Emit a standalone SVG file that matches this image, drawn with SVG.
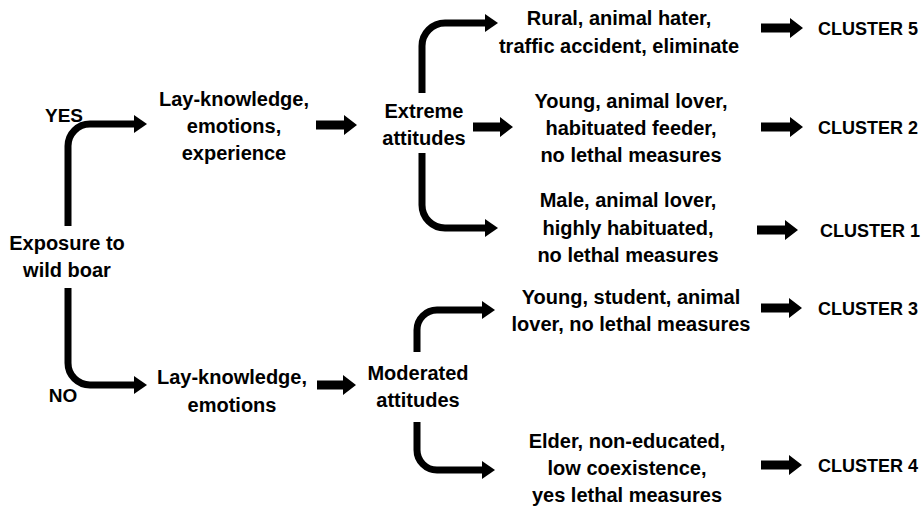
<svg xmlns="http://www.w3.org/2000/svg" width="921" height="507" viewBox="0 0 921 507">
<style>
  text { font-family: "Liberation Sans", Arial, sans-serif; font-weight: bold; font-size: 20px; fill: #000; text-anchor: middle; }
  .small { font-size: 19px; }
  .cl { font-size: 18px; text-anchor: start; }
  .curve { fill: none; stroke: #000; stroke-width: 7; stroke-linecap: butt; marker-end: url(#head); }
  .block { fill: #000; stroke: none; }
</style>
<defs>
  <marker id="head" viewBox="0 0 13 18" markerUnits="userSpaceOnUse" markerWidth="13" markerHeight="18" refX="1" refY="9" orient="auto">
    <path d="M0,0 L13,9 L0,18 Z" fill="#000"/>
  </marker>
</defs>
<rect width="921" height="507" fill="#fff"/>

<g id="connectors">
  <path class="curve" d="M68,226 V146 A22,22 0 0 1 90,124 H135"/>
  <path class="curve" d="M68,288 V363 A22,22 0 0 0 90,385 H135"/>
  <path class="curve" d="M422,93 V46 A23,23 0 0 1 445,23 H486"/>
  <path class="curve" d="M422,153 V205 A23,23 0 0 0 445,228 H486"/>
  <path class="curve" d="M417,352 V330 A20,20 0 0 1 437,310 H483"/>
  <path class="curve" d="M417,422 V450 A20,20 0 0 0 437,470 H483"/>
  <path class="block" d="M316,120.5 H344 V115 L357,125 L344,135 V129.5 H316 Z"/>
  <path class="block" d="M473,122.5 H500 V117 L513,127 L500,137 V131.5 H473 Z"/>
  <path class="block" d="M317,380.5 H343 V375 L356,385 L343,395 V389.5 H317 Z"/>
  <path class="block" d="M761,23.5 H790 V18 L803,28 L790,38 V32.5 H761 Z"/>
  <path class="block" d="M761,122.5 H790 V117 L803,127 L790,137 V131.5 H761 Z"/>
  <path class="block" d="M757,225.5 H785 V220 L798,230 L785,240 V234.5 H757 Z"/>
  <path class="block" d="M761,303.5 H789 V298 L802,308 L789,318 V312.5 H761 Z"/>
  <path class="block" d="M761,460.5 H789 V455 L802,465 L789,475 V469.5 H761 Z"/>
</g>

<g id="yes-label"><text class="small" x="64" y="122">YES</text></g>
<g id="no-label"><text class="small" x="63" y="402">NO</text></g>

<g id="exposure">
  <text x="67" y="250">Exposure to</text>
  <text x="67" y="277">wild boar</text>
</g>

<g id="lay-yes">
  <text x="234" y="106">Lay-knowledge,</text>
  <text x="234" y="133">emotions,</text>
  <text x="234" y="160">experience</text>
</g>

<g id="lay-no">
  <text x="232" y="384">Lay-knowledge,</text>
  <text x="232" y="412">emotions</text>
</g>

<g id="extreme">
  <text x="424" y="118">Extreme</text>
  <text x="424" y="145">attitudes</text>
</g>

<g id="moderated">
  <text x="418" y="380">Moderated</text>
  <text x="418" y="407">attitudes</text>
</g>

<g id="profile-5">
  <text x="619" y="25">Rural, animal hater,</text>
  <text x="619" y="53">traffic accident, eliminate</text>
</g>

<g id="profile-2">
  <text x="631" y="108">Young, animal lover,</text>
  <text x="631" y="135">habituated feeder,</text>
  <text x="631" y="162">no lethal measures</text>
</g>

<g id="profile-1">
  <text x="628" y="207">Male, animal lover,</text>
  <text x="628" y="235">highly habituated,</text>
  <text x="628" y="262">no lethal measures</text>
</g>

<g id="profile-3">
  <text x="631" y="304">Young, student, animal</text>
  <text x="631" y="331">lover, no lethal measures</text>
</g>

<g id="profile-4">
  <text x="627" y="448">Elder, non-educated,</text>
  <text x="627" y="475">low coexistence,</text>
  <text x="627" y="502">yes lethal measures</text>
</g>

<g id="cluster-5"><text class="cl" x="818" y="35">CLUSTER 5</text></g>
<g id="cluster-2"><text class="cl" x="818" y="134">CLUSTER 2</text></g>
<g id="cluster-1"><text class="cl" x="820" y="237">CLUSTER 1</text></g>
<g id="cluster-3"><text class="cl" x="818" y="315">CLUSTER 3</text></g>
<g id="cluster-4"><text class="cl" x="818" y="472">CLUSTER 4</text></g>
</svg>
